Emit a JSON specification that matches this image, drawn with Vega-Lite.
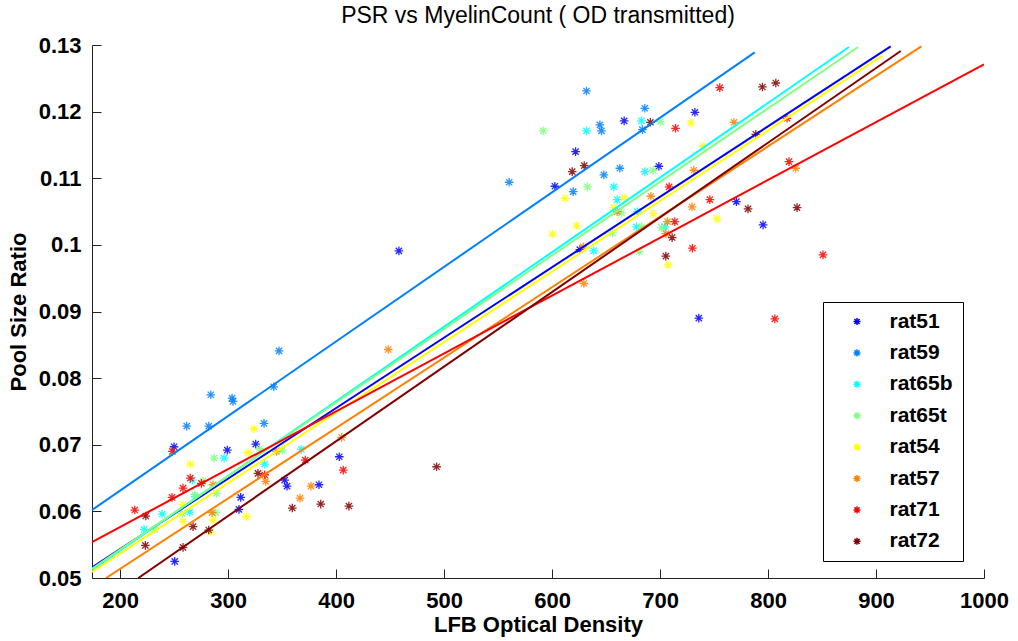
{
  "$schema": "https://vega.github.io/schema/vega-lite/v6.json",
  "autosize": {"type": "none"},
  "width": 892,
  "height": 533,
  "padding": {"left": 92, "top": 45, "right": 34, "bottom": 63},
  "background": "white",
  "config": {
    "font": "Liberation Sans",
    "view": {"stroke": null},
    "axis": {"grid": false, "domainColor": "#222", "tickColor": "#222", "labelColor": "black", "titleColor": "black"}
  },
  "title": {"text": "PSR vs MyelinCount ( OD transmitted)", "fontSize": 23, "fontWeight": "normal", "font": "Liberation Sans", "color": "black", "anchor": "middle", "frame": "group", "offset": 6},
  "datasets": {
    "pts": [
      {"rat": "rat51", "lfb": 250, "psr": 0.0697}, {"rat": "rat51", "lfb": 299.3, "psr": 0.0692}, {"rat": "rat51", "lfb": 325.6, "psr": 0.0701}, {"rat": "rat51", "lfb": 352.4, "psr": 0.0647}, {"rat": "rat51", "lfb": 354.6, "psr": 0.0638}, {"rat": "rat51", "lfb": 311.7, "psr": 0.0621}, {"rat": "rat51", "lfb": 310.1, "psr": 0.0603}, {"rat": "rat51", "lfb": 250.6, "psr": 0.0525}, {"rat": "rat51", "lfb": 403, "psr": 0.0682}, {"rat": "rat51", "lfb": 384.2, "psr": 0.064}, {"rat": "rat51", "lfb": 458.2, "psr": 0.0991}, {"rat": "rat51", "lfb": 621.8, "psr": 0.114}, {"rat": "rat51", "lfb": 602.6, "psr": 0.1088}, {"rat": "rat51", "lfb": 625.7, "psr": 0.0993}, {"rat": "rat51", "lfb": 666.8, "psr": 0.1186}, {"rat": "rat51", "lfb": 732.3, "psr": 0.1199}, {"rat": "rat51", "lfb": 698.9, "psr": 0.1118}, {"rat": "rat51", "lfb": 770.7, "psr": 0.1065}, {"rat": "rat51", "lfb": 795.4, "psr": 0.103}, {"rat": "rat51", "lfb": 735.9, "psr": 0.089},
      {"rat": "rat59", "lfb": 347.2, "psr": 0.0841}, {"rat": "rat59", "lfb": 342.3, "psr": 0.0787}, {"rat": "rat59", "lfb": 284, "psr": 0.0775}, {"rat": "rat59", "lfb": 303.7, "psr": 0.077}, {"rat": "rat59", "lfb": 304.6, "psr": 0.0765}, {"rat": "rat59", "lfb": 261.7, "psr": 0.0728}, {"rat": "rat59", "lfb": 282.1, "psr": 0.0728}, {"rat": "rat59", "lfb": 333.3, "psr": 0.0732}, {"rat": "rat59", "lfb": 560.3, "psr": 0.1094}, {"rat": "rat59", "lfb": 648, "psr": 0.1105}, {"rat": "rat59", "lfb": 619.6, "psr": 0.108}, {"rat": "rat59", "lfb": 631.9, "psr": 0.1231}, {"rat": "rat59", "lfb": 644.3, "psr": 0.118}, {"rat": "rat59", "lfb": 645.8, "psr": 0.1171}, {"rat": "rat59", "lfb": 683.7, "psr": 0.1173}, {"rat": "rat59", "lfb": 685.9, "psr": 0.1205}, {"rat": "rat59", "lfb": 662.8, "psr": 0.1115},
      {"rat": "rat65b", "lfb": 296.3, "psr": 0.068}, {"rat": "rat65b", "lfb": 367.8, "psr": 0.0693}, {"rat": "rat65b", "lfb": 266.9, "psr": 0.0647}, {"rat": "rat65b", "lfb": 269.5, "psr": 0.0622}, {"rat": "rat65b", "lfb": 333.9, "psr": 0.0671}, {"rat": "rat65b", "lfb": 264.5, "psr": 0.0599}, {"rat": "rat65b", "lfb": 238.9, "psr": 0.0596}, {"rat": "rat65b", "lfb": 222.2, "psr": 0.0573}, {"rat": "rat65b", "lfb": 638.7, "psr": 0.0991}, {"rat": "rat65b", "lfb": 631.9, "psr": 0.1171}, {"rat": "rat65b", "lfb": 682.8, "psr": 0.1186}, {"rat": "rat65b", "lfb": 657.2, "psr": 0.1087}, {"rat": "rat65b", "lfb": 660.3, "psr": 0.1068}, {"rat": "rat65b", "lfb": 685.9, "psr": 0.111}, {"rat": "rat65b", "lfb": 678.9, "psr": 0.105}, {"rat": "rat65b", "lfb": 704.4, "psr": 0.1027}, {"rat": "rat65b", "lfb": 678.2, "psr": 0.1027},
      {"rat": "rat65t", "lfb": 287, "psr": 0.068}, {"rat": "rat65t", "lfb": 329.3, "psr": 0.0694}, {"rat": "rat65t", "lfb": 350.2, "psr": 0.0692}, {"rat": "rat65t", "lfb": 276.8, "psr": 0.0645}, {"rat": "rat65t", "lfb": 269.1, "psr": 0.0625}, {"rat": "rat65t", "lfb": 289.2, "psr": 0.0627}, {"rat": "rat65t", "lfb": 288.6, "psr": 0.0598}, {"rat": "rat65t", "lfb": 257.4, "psr": 0.0597}, {"rat": "rat65t", "lfb": 232.1, "psr": 0.0573}, {"rat": "rat65t", "lfb": 632.8, "psr": 0.1087}, {"rat": "rat65t", "lfb": 591.8, "psr": 0.1171}, {"rat": "rat65t", "lfb": 700.4, "psr": 0.1185}, {"rat": "rat65t", "lfb": 664.3, "psr": 0.1048}, {"rat": "rat65t", "lfb": 693.6, "psr": 0.1112}, {"rat": "rat65t", "lfb": 701.4, "psr": 0.1026}, {"rat": "rat65t", "lfb": 682.8, "psr": 0.1027}, {"rat": "rat65t", "lfb": 680.6, "psr": 0.099}, {"rat": "rat65t", "lfb": 656, "psr": 0.1018},
      {"rat": "rat54", "lfb": 265.1, "psr": 0.0671}, {"rat": "rat54", "lfb": 324, "psr": 0.0724}, {"rat": "rat54", "lfb": 318.5, "psr": 0.0688}, {"rat": "rat54", "lfb": 317, "psr": 0.0592}, {"rat": "rat54", "lfb": 286.1, "psr": 0.0587}, {"rat": "rat54", "lfb": 283.9, "psr": 0.0569}, {"rat": "rat54", "lfb": 258.3, "psr": 0.0585}, {"rat": "rat54", "lfb": 258.3, "psr": 0.061}, {"rat": "rat54", "lfb": 611.9, "psr": 0.107}, {"rat": "rat54", "lfb": 622.7, "psr": 0.1029}, {"rat": "rat54", "lfb": 600.5, "psr": 0.1016}, {"rat": "rat54", "lfb": 728.5, "psr": 0.1183}, {"rat": "rat54", "lfb": 739.9, "psr": 0.1148}, {"rat": "rat54", "lfb": 666.8, "psr": 0.1071}, {"rat": "rat54", "lfb": 657.2, "psr": 0.1056}, {"rat": "rat54", "lfb": 693.6, "psr": 0.1047}, {"rat": "rat54", "lfb": 752.8, "psr": 0.1039}, {"rat": "rat54", "lfb": 707.5, "psr": 0.097},
      {"rat": "rat57", "lfb": 344.7, "psr": 0.069}, {"rat": "rat57", "lfb": 286.1, "psr": 0.064}, {"rat": "rat57", "lfb": 334.8, "psr": 0.0645}, {"rat": "rat57", "lfb": 366.6, "psr": 0.062}, {"rat": "rat57", "lfb": 285.2, "psr": 0.0598}, {"rat": "rat57", "lfb": 448.3, "psr": 0.0843}, {"rat": "rat57", "lfb": 405.2, "psr": 0.0711}, {"rat": "rat57", "lfb": 376.8, "psr": 0.0638}, {"rat": "rat57", "lfb": 628.8, "psr": 0.0997}, {"rat": "rat57", "lfb": 629.5, "psr": 0.0942}, {"rat": "rat57", "lfb": 768.5, "psr": 0.1184}, {"rat": "rat57", "lfb": 660.3, "psr": 0.105}, {"rat": "rat57", "lfb": 691.5, "psr": 0.1073}, {"rat": "rat57", "lfb": 731.3, "psr": 0.1112}, {"rat": "rat57", "lfb": 729.7, "psr": 0.1057}, {"rat": "rat57", "lfb": 706.9, "psr": 0.1035}, {"rat": "rat57", "lfb": 705.4, "psr": 0.1017}, {"rat": "rat57", "lfb": 825.7, "psr": 0.1115},
      {"rat": "rat71", "lfb": 248.4, "psr": 0.069}, {"rat": "rat71", "lfb": 265, "psr": 0.065}, {"rat": "rat71", "lfb": 275.3, "psr": 0.0642}, {"rat": "rat71", "lfb": 258.3, "psr": 0.0635}, {"rat": "rat71", "lfb": 248.1, "psr": 0.0621}, {"rat": "rat71", "lfb": 213.6, "psr": 0.0602}, {"rat": "rat71", "lfb": 333.9, "psr": 0.0655}, {"rat": "rat71", "lfb": 371.5, "psr": 0.0677}, {"rat": "rat71", "lfb": 406.7, "psr": 0.0662}, {"rat": "rat71", "lfb": 714.3, "psr": 0.1175}, {"rat": "rat71", "lfb": 755.3, "psr": 0.1236}, {"rat": "rat71", "lfb": 708.4, "psr": 0.1087}, {"rat": "rat71", "lfb": 746.1, "psr": 0.1068}, {"rat": "rat71", "lfb": 713.7, "psr": 0.1035}, {"rat": "rat71", "lfb": 730, "psr": 0.0995}, {"rat": "rat71", "lfb": 817.6, "psr": 0.119}, {"rat": "rat71", "lfb": 819.4, "psr": 0.1125}, {"rat": "rat71", "lfb": 850.9, "psr": 0.0985}, {"rat": "rat71", "lfb": 806.3, "psr": 0.0889},
      {"rat": "rat72", "lfb": 327.7, "psr": 0.0657}, {"rat": "rat72", "lfb": 359.5, "psr": 0.0605}, {"rat": "rat72", "lfb": 282.1, "psr": 0.0572}, {"rat": "rat72", "lfb": 267.6, "psr": 0.0577}, {"rat": "rat72", "lfb": 223.8, "psr": 0.0593}, {"rat": "rat72", "lfb": 223.4, "psr": 0.0549}, {"rat": "rat72", "lfb": 258.3, "psr": 0.0546}, {"rat": "rat72", "lfb": 385.8, "psr": 0.0611}, {"rat": "rat72", "lfb": 411.9, "psr": 0.0608}, {"rat": "rat72", "lfb": 493.1, "psr": 0.0667}, {"rat": "rat72", "lfb": 629.8, "psr": 0.1119}, {"rat": "rat72", "lfb": 618.7, "psr": 0.111}, {"rat": "rat72", "lfb": 691.1, "psr": 0.1184}, {"rat": "rat72", "lfb": 794.8, "psr": 0.1237}, {"rat": "rat72", "lfb": 807.2, "psr": 0.1243}, {"rat": "rat72", "lfb": 788.7, "psr": 0.1166}, {"rat": "rat72", "lfb": 781.5, "psr": 0.1054}, {"rat": "rat72", "lfb": 711.2, "psr": 0.1011}, {"rat": "rat72", "lfb": 705.4, "psr": 0.0983}, {"rat": "rat72", "lfb": 826.9, "psr": 0.1056}
    ],
    "fits": [
      {"rat": "rat51", "lfb": 174, "psr": 0.0516}, {"rat": "rat51", "lfb": 913.6, "psr": 0.1298},
      {"rat": "rat59", "lfb": 174, "psr": 0.0602}, {"rat": "rat59", "lfb": 787.7, "psr": 0.1289},
      {"rat": "rat65b", "lfb": 174, "psr": 0.0512}, {"rat": "rat65b", "lfb": 875, "psr": 0.1297},
      {"rat": "rat65t", "lfb": 174, "psr": 0.0514}, {"rat": "rat65t", "lfb": 883.4, "psr": 0.1297},
      {"rat": "rat54", "lfb": 174, "psr": 0.0509}, {"rat": "rat54", "lfb": 905.9, "psr": 0.1284},
      {"rat": "rat57", "lfb": 187, "psr": 0.05}, {"rat": "rat57", "lfb": 942, "psr": 0.1298},
      {"rat": "rat71", "lfb": 174, "psr": 0.0554}, {"rat": "rat71", "lfb": 1000, "psr": 0.1271},
      {"rat": "rat72", "lfb": 216.9, "psr": 0.05}, {"rat": "rat72", "lfb": 922.9, "psr": 0.1291}
    ]
  },
  "encoding": {
    "x": {"field": "lfb", "type": "quantitative", "title": "LFB Optical Density",
      "scale": {"domain": [174, 1000], "nice": false, "zero": false},
      "axis": {"values": [200, 300, 400, 500, 600, 700, 800, 900, 1000], "format": "d", "tickSize": -9, "labelPadding": 21, "labelFontSize": 22, "labelFontWeight": "bold", "titleFontSize": 22, "titleFontWeight": "bold", "titlePadding": 3, "domainWidth": 1, "tickWidth": 1, "labelFlush": false}},
    "y": {"field": "psr", "type": "quantitative", "title": "Pool Size Ratio",
      "scale": {"domain": [0.05, 0.13], "nice": false, "zero": false},
      "axis": {"values": [0.05, 0.06, 0.07, 0.08, 0.09, 0.1, 0.11, 0.12, 0.13], "format": "~g", "tickSize": -9, "labelPadding": 20, "labelFontSize": 22, "labelFontWeight": "bold", "titleFontSize": 22, "titleFontWeight": "bold", "titlePadding": 8, "domainWidth": 1, "tickWidth": 1, "labelFlush": false}}
  },
  "layer": [
    {
      "data": {"name": "pts"},
      "mark": {"type": "point", "shape": "M0,-1L0,1M-1,0L1,0M-0.72,-0.72L0.72,0.72M-0.72,0.72L0.72,-0.72", "filled": false, "size": 75, "strokeWidth": 1.3, "opacity": 0.85},
      "encoding": {
        "stroke": {"field": "rat", "type": "nominal",
          "scale": {"domain": ["rat51", "rat59", "rat65b", "rat65t", "rat54", "rat57", "rat71", "rat72"], "range": ["#0000ff", "#0080ff", "#00ffff", "#80ff80", "#ffff00", "#ff8000", "#ff0000", "#800000"]},
          "legend": {"title": null, "orient": "none", "legendX": 731, "legendY": 257, "strokeColor": "black", "padding": 9.5, "fillColor": "white",
            "symbolType": "M0,-1L0,1M-1,0L1,0M-0.72,-0.72L0.72,0.72M-0.72,0.72L0.72,-0.72", "symbolSize": 50, "symbolStrokeWidth": 1.5, "symbolFillColor": "transparent", "symbolOpacity": 1,
            "symbolOffset": 14, "labelOffset": 22, "labelFontSize": 21, "labelFontWeight": "bold", "labelColor": "black", "clipHeight": 20, "rowPadding": 10.4}}
      }
    },
    {
      "data": {"name": "fits"},
      "mark": {"type": "line", "strokeWidth": 2, "clip": true},
      "encoding": {
        "color": {"field": "rat", "type": "nominal",
          "scale": {"domain": ["rat51", "rat59", "rat65b", "rat65t", "rat54", "rat57", "rat71", "rat72"], "range": ["#0000ff", "#0080ff", "#00ffff", "#80ff80", "#ffff00", "#ff8000", "#ff0000", "#800000"]},
          "legend": null}
      }
    }
  ]
}
